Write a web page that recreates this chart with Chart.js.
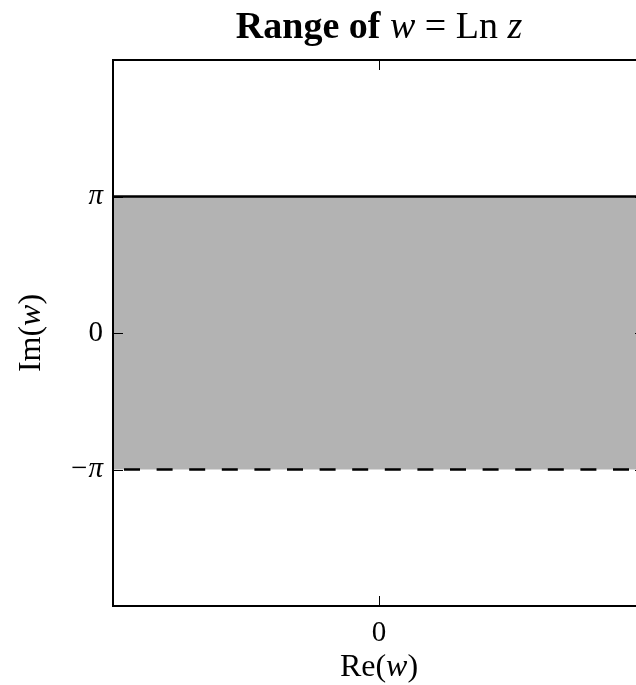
<!DOCTYPE html>
<html>
<head>
<meta charset="utf-8">
<script src="https://cdn.jsdelivr.net/npm/chart.js@4"></script>
<style>
  html, body { margin: 0; padding: 0; background: #fff; overflow: hidden; }
  #wrap { width: 660px; height: 685px; }
</style>
</head>
<body>
<div id="wrap"><canvas id="myChart" width="660" height="685"></canvas></div>
<script>
const PI = Math.PI;

// Zakres osi i wartości podziałek
const xRange = [-2 * PI, 2 * PI];
const yRange = [-2 * PI, 2 * PI];
const xTicks = [0];
const yTicks = [-PI, 0, PI];
const yTickLabels = ['\u2212\u03c0', '0', '\u03c0'];

// Pas: Im(w) od -pi do pi, dla każdej części rzeczywistej
const bandX = [xRange[0], xRange[1]];
const bandTop = [PI, PI];
const bandBottom = [-PI, -PI];

const SERIF = '"Liberation Serif", "DejaVu Serif", serif';

// Tekst złożony z kawałków (część pochyła), rysowany od środka
function drawPieces(ctx, pieces, x, y, size) {
    let total = 0;
    pieces.forEach(p => {
        ctx.font = (p.style || '') + ' ' + (p.weight || '') + ' ' + size + 'px ' + SERIF;
        p.w = ctx.measureText(p.t).width;
        total += p.w;
    });
    let cx = x - total / 2;
    pieces.forEach(p => {
        ctx.font = (p.style || '') + ' ' + (p.weight || '') + ' ' + size + 'px ' + SERIF;
        ctx.fillText(p.t, cx, y);
        cx += p.w;
    });
}

const frameAndText = {
    id: 'frameAndText',
    afterDraw(chart) {
        const {ctx, chartArea: a, scales} = chart;
        ctx.save();
        ctx.strokeStyle = '#000';
        ctx.fillStyle = '#000';

        // ramka osi
        ctx.lineWidth = 2;
        ctx.strokeRect(a.left, a.top, a.right - a.left, a.bottom - a.top);

        // podziałki skierowane do środka
        ctx.lineWidth = 1;
        ctx.beginPath();
        yTicks.forEach(v => {
            const py = Math.round(scales.y.getPixelForValue(v)) + 0.5;
            ctx.moveTo(a.left, py); ctx.lineTo(a.left + 10, py);
            ctx.moveTo(a.right, py); ctx.lineTo(a.right - 10, py);
        });
        xTicks.forEach(v => {
            const px = Math.round(scales.x.getPixelForValue(v)) + 0.5;
            ctx.moveTo(px, a.bottom); ctx.lineTo(px, a.bottom - 10);
            ctx.moveTo(px, a.top); ctx.lineTo(px, a.top + 10);
        });
        ctx.stroke();

        ctx.textBaseline = 'alphabetic';
        const cx = scales.x.getPixelForValue(0);

        // tytuł
        drawPieces(ctx, [
            {t: 'Range of ', weight: 'bold'},
            {t: 'w', style: 'italic'},
            {t: ' = Ln '},
            {t: 'z', style: 'italic'}
        ], cx, 38, 38);

        // opis osi X
        drawPieces(ctx, [{t: 'Re('}, {t: 'w', style: 'italic'}, {t: ')'}], cx, 676, 32);

        // opis osi Y
        ctx.translate(40, (a.top + a.bottom) / 2);
        ctx.rotate(-Math.PI / 2);
        drawPieces(ctx, [{t: 'Im('}, {t: 'w', style: 'italic'}, {t: ')'}], 0, 0, 32);
        ctx.restore();
    }
};

const ctx = document.getElementById('myChart').getContext('2d');

const data = {
    datasets: [{
        label: 'Im(w) = \u03c0',
        data: bandX.map((x, i) => ({x: x, y: bandTop[i]})),
        borderColor: '#000',
        borderWidth: 2.5,
        backgroundColor: '#b3b3b3',
        fill: '+1',
        pointRadius: 0
    }, {
        label: 'Im(w) = \u2212\u03c0',
        data: bandX.map((x, i) => ({x: x, y: bandBottom[i]})),
        borderColor: '#000',
        borderWidth: 2.5,
        borderDash: [16, 16.6],
        borderDashOffset: 21.6,
        fill: false,
        pointRadius: 0
    }]
};

const options = {
    responsive: false,
    devicePixelRatio: 1,
    animation: false,
    layout: { padding: { top: 60, right: 15, left: 0, bottom: 0 } },
    plugins: {
        legend: { display: false },
        title: { display: false },
        tooltip: { enabled: false },
        // wypełnienie pod liniami, żeby nie zasłaniało przerywanej
        filler: { drawTime: 'beforeDatasetsDraw' }
    },
    scales: {
        x: {
            type: 'linear',
            min: xRange[0],
            max: xRange[1],
            afterBuildTicks: s => { s.ticks = xTicks.map(v => ({value: v})); },
            afterFit: s => { s.height = 79; },
            grid: { display: false, drawTicks: false },
            border: { display: false },
            ticks: {
                padding: 10,
                color: '#000',
                maxRotation: 0,
                font: { family: SERIF, size: 29 },
                callback: v => String(v)
            }
        },
        y: {
            type: 'linear',
            min: yRange[0],
            max: yRange[1],
            afterBuildTicks: s => { s.ticks = yTicks.map(v => ({value: v})); },
            afterFit: s => { s.width = 113; },
            grid: { display: false, drawTicks: false },
            border: { display: false },
            ticks: {
                padding: 10,
                color: '#000',
                font: c => ({ family: SERIF, size: 29, style: (c.tick && c.tick.value !== 0) ? 'italic' : 'normal' }),
                callback: (v, i) => yTickLabels[i]
            }
        }
    }
};

const myChart = new Chart(ctx, {
    type: 'line',
    data: data,
    options: options,
    plugins: [frameAndText]
});
</script>
</body>
</html>
